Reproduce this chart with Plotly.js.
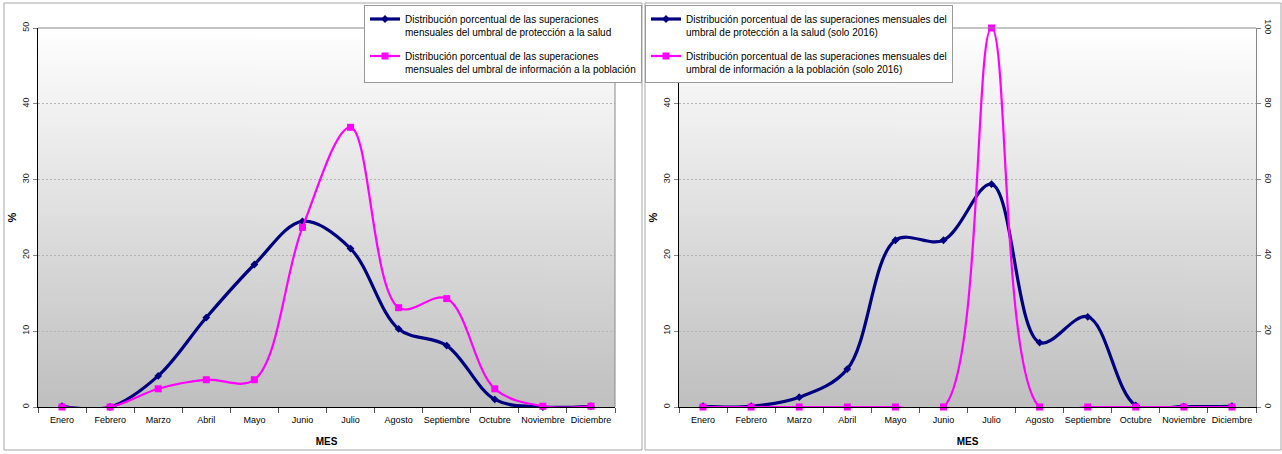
<!DOCTYPE html>
<html>
<head>
<meta charset="utf-8">
<script src="https://cdn.plot.ly/plotly-3.0.1.min.js"></script>
<style>
html,body{margin:0;padding:0;background:#fff;}
#chart{width:1282px;height:454px;}
</style>
</head>
<body>
<div id="chart"></div>
<script>
// ---- data ----
var meses = ['Enero','Febrero','Marzo','Abril','Mayo','Junio','Julio','Agosto','Septiembre','Octubre','Noviembre','Diciembre'];
var proteccionSalud = [0.1, 0, 4.1, 11.8, 18.8, 24.5, 20.9, 10.3, 8.1, 1.0, 0, 0.1];
var informacionPoblacion = [0, 0, 2.4, 3.6, 3.6, 23.7, 36.9, 13.1, 14.3, 2.4, 0.1, 0.1];
var proteccionSalud2016 = [0.1, 0.1, 1.3, 5.0, 22.0, 22.0, 29.4, 8.5, 11.9, 0.2, 0.05, 0.1];
var informacionPoblacion2016 = [0, 0, 0, 0, 0, 0, 100, 0, 0, 0, 0, 0];
var leftTicks = [0, 10, 20, 30, 40, 50];
var rightTicks = [0, 20, 40, 60, 80, 100];

var nameA = 'Distribución porcentual de las superaciones<br>mensuales del umbral de protección a la salud';
var nameB = 'Distribución porcentual de las superaciones<br>mensuales del umbral de información a la población';
var nameC = 'Distribución porcentual de las superaciones mensuales del<br>umbral de protección a la salud (solo 2016)';
var nameD = 'Distribución porcentual de las superaciones mensuales del<br>umbral de información a la población (solo 2016)';

// ---- styling ----
var W = 1282, H = 454;
var NAVY = '#000080', MAG = '#FF00FF';
var SANS = '"Liberation Sans", Arial, sans-serif';
var xd1 = [38 / W, 615 / W], xd2 = [679 / W, 1256 / W];
var yd = [1 - 407 / H, 1 - 28 / H];

function gradient() {
  var c = document.createElement('canvas');
  c.width = 4; c.height = 256;
  var ctx = c.getContext('2d');
  var g = ctx.createLinearGradient(0, 0, 0, 256);
  g.addColorStop(0, '#ffffff');
  g.addColorStop(1, '#bfbfbf');
  ctx.fillStyle = g;
  ctx.fillRect(0, 0, 4, 256);
  return c.toDataURL('image/png');
}
var gsrc = gradient();

function blue(y, xa, ya, leg, name, grp) {
  return {x: meses, y: y, xaxis: xa, yaxis: ya, legend: leg, legendgroup: grp, name: name, type: 'scatter', mode: 'lines+markers',
    line: {color: NAVY, width: 3.2, shape: 'spline', smoothing: 1},
    marker: {symbol: 'diamond', size: 6, color: NAVY}, cliponaxis: false};
}
function pink(y, xa, ya, leg, name, grp) {
  return {x: meses, y: y, xaxis: xa, yaxis: ya, legend: leg, legendgroup: grp, name: name, type: 'scatter', mode: 'lines+markers',
    line: {color: MAG, width: 2.2, shape: 'spline', smoothing: 1},
    marker: {symbol: 'square', size: 7, color: MAG}, cliponaxis: false};
}

var traces = [
  blue(proteccionSalud, 'x', 'y', 'legend', nameA, 'a'),
  pink(informacionPoblacion, 'x', 'y', 'legend', nameB, 'b'),
  blue(proteccionSalud2016, 'x2', 'y2', 'legend2', nameC, 'c'),
  pink(informacionPoblacion2016, 'x2', 'y3', 'legend2', nameD, 'd')
];

function xaxis(dom, anchor) {
  return {domain: dom, anchor: anchor, type: 'category', range: [-0.5, 11.5],
    showline: true, linecolor: '#000', linewidth: 1, showgrid: false, zeroline: false,
    ticks: 'outside', tickson: 'boundaries', ticklen: 5, tickcolor: '#555', tickangle: 0,
    ticklabelstandoff: 4,
    tickfont: {family: SANS, size: 9, color: '#000'},
    title: {text: '<b>MES</b>', font: {family: SANS, size: 10, color: '#000'}, standoff: 14},
    fixedrange: true};
}
function yleft(anchor) {
  return {domain: yd, anchor: anchor, range: [0, 50], tickvals: leftTicks, ticktext: leftTicks.map(String),
    showline: true, linecolor: '#000', linewidth: 1, zeroline: false,
    showgrid: true, gridcolor: '#b4b4b4', griddash: '2px,2px', gridwidth: 1,
    ticks: 'outside', ticklen: 4, tickcolor: '#888', tickangle: -90,
    tickfont: {family: SANS, size: 9, color: '#222'},
    title: {text: '<b>%</b>', font: {family: SANS, size: 11, color: '#000'}, standoff: 2},
    fixedrange: true};
}

var legendCommon = {xanchor: 'left', yanchor: 'top', bgcolor: '#fff', bordercolor: '#999', borderwidth: 1,
  font: {family: SANS, size: 10, color: '#000'}, itemwidth: 30, tracegroupgap: 8, valign: 'top'};

var layout = {
  width: W, height: H,
  margin: {l: 0, r: 0, t: 0, b: 0, pad: 0},
  paper_bgcolor: '#fff', plot_bgcolor: 'rgba(0,0,0,0)',
  xaxis: xaxis(xd1, 'y'),
  yaxis: yleft('x'),
  xaxis2: xaxis(xd2, 'y2'),
  yaxis2: yleft('x2'),
  yaxis3: {domain: yd, anchor: 'x2', overlaying: 'y2', side: 'right', range: [0, 100],
    tickvals: rightTicks, ticktext: rightTicks.map(String),
    showline: true, linecolor: '#888', linewidth: 1, zeroline: false, showgrid: false,
    ticks: 'outside', ticklen: 4, tickcolor: '#888', tickangle: 90,
    tickfont: {family: SANS, size: 9, color: '#222'}, fixedrange: true},
  showlegend: true,
  legend: Object.assign({}, legendCommon, {x: 364 / W, y: 1 - 5 / H}),
  legend2: Object.assign({}, legendCommon, {x: 645 / W, y: 1 - 5 / H}),
  images: [
    {source: gsrc, xref: 'paper', yref: 'paper', x: xd1[0], y: yd[1], sizex: xd1[1] - xd1[0], sizey: yd[1] - yd[0],
      sizing: 'stretch', xanchor: 'left', yanchor: 'top', layer: 'below'},
    {source: gsrc, xref: 'paper', yref: 'paper', x: xd2[0], y: yd[1], sizex: xd2[1] - xd2[0], sizey: yd[1] - yd[0],
      sizing: 'stretch', xanchor: 'left', yanchor: 'top', layer: 'below'}
  ],
  shapes: [
    {type: 'rect', xref: 'paper', yref: 'paper', x0: 4 / W, x1: 642 / W, y0: 1 - 450 / H, y1: 1 - 3 / H,
      line: {color: '#a6a6a6', width: 1}, layer: 'below'},
    {type: 'rect', xref: 'paper', yref: 'paper', x0: 645 / W, x1: 1281 / W, y0: 1 - 450 / H, y1: 1 - 3 / H,
      line: {color: '#a6a6a6', width: 1}, layer: 'below'},
    {type: 'line', xref: 'paper', yref: 'paper', x0: xd1[0], x1: xd1[1], y0: yd[1], y1: yd[1], line: {color: '#888', width: 1}},
    {type: 'line', xref: 'paper', yref: 'paper', x0: xd1[1], x1: xd1[1], y0: yd[0], y1: yd[1], line: {color: '#888', width: 1}},
    {type: 'line', xref: 'paper', yref: 'paper', x0: xd2[0], x1: xd2[1], y0: yd[1], y1: yd[1], line: {color: '#888', width: 1}}
  ]
};

Plotly.newPlot('chart', traces, layout, {displayModeBar: false, staticPlot: true});
</script>
</body>
</html>
